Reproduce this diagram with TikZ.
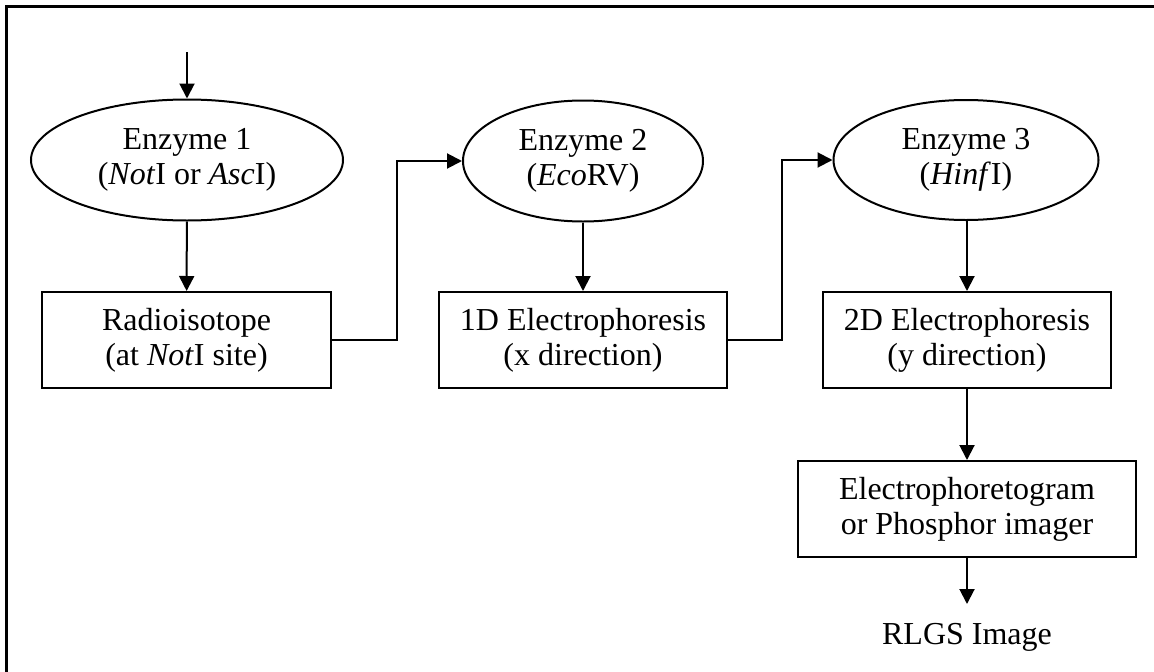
\documentclass[tikz,border=0pt]{standalone}
\usepackage{fontspec}
\setmainfont{Liberation Serif}
\usetikzlibrary{arrows.meta,shapes.geometric}
\begin{document}
\begin{tikzpicture}[x=1pt,y=-1pt,
  every node/.style={font=\fontsize{32}{35}\selectfont, align=center, inner sep=0pt},
  oval/.style={draw, ellipse, line width=2pt},
  stepbox/.style={draw, rectangle, line width=2pt},
  conn/.style={line width=2pt, -{Triangle[length=15pt,width=15pt]}}]
\useasboundingbox (0,0) rectangle (1154,672);
\draw[line width=3pt] (6,672) -- (6,6) -- (1154,6);
\node[oval, minimum width=312pt, minimum height=121pt] (e1) at (187,160) {Enzyme 1\\(\textit{Not}I or \textit{Asc}I)};
\node[oval, minimum width=240pt, minimum height=121pt] (e2) at (583,161) {Enzyme 2\\(\textit{Eco}RV)};
\node[oval, minimum width=265pt, minimum height=120pt] (e3) at (966,160) {Enzyme 3\\(\textit{Hinf}I)};
\node[stepbox, minimum width=289pt, minimum height=96pt] (r) at (186.5,340) {Radioisotope\\(at \textit{Not}I site)};
\node[stepbox, minimum width=288pt, minimum height=96pt] (d1) at (583,340) {1D Electrophoresis\\(x direction)};
\node[stepbox, minimum width=288pt, minimum height=96pt] (d2) at (967,340) {2D Electrophoresis\\(y direction)};
\node[stepbox, minimum width=338pt, minimum height=96pt] (ep) at (967,509) {Electrophoretogram\\or Phosphor imager};
\node (img) at (967,637) {RLGS Image};
\coordinate (start) at (187,52);
\draw[conn] (start) -- (e1);
\draw[conn] (e1) -- (r);
\draw[conn] (r.east) -- (397,340) |- (e2.west);
\draw[conn] (e2) -- (d1);
\draw[conn] (d1.east) -- (782,340) |- (e3.west);
\draw[conn] (e3.south -| d2.north) -- (d2.north);
\draw[conn] (d2) -- (ep);
\draw[conn] (ep.south) -- (967,604);
\end{tikzpicture}
\end{document}
